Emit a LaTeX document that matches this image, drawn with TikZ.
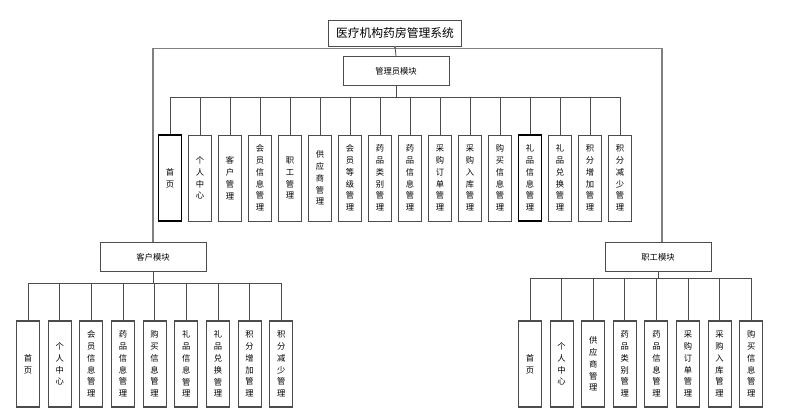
\documentclass[tikz,border=0pt]{standalone}
\usepackage{fontspec}
\setmainfont{Noto Sans CJK SC}
\begin{document}
\begin{tikzpicture}[x=1pt, y=-1pt, font=\fontsize{8.3}{11.8}\selectfont,
          box/.style={draw=black!70, line width=0.8pt, fill=white, inner sep=0pt},
          leaf/.style={box, minimum width=23pt, minimum height=86pt, align=center},
          modbox/.style={box, minimum width=106pt, minimum height=29pt},
          strong/.style={draw=black, line width=1.1pt},
          conn/.style={draw=black!70, line width=0.8pt},
          trunk/.style={draw=black!50, line width=1.4pt}]
        \useasboundingbox (0,0) rectangle (800,414);
        % root and the three modules
        \node[box, minimum width=133pt, minimum height=26pt, font=\fontsize{11.8}{13}\selectfont] (sys) at (395,33) {医疗机构药房管理系统};
        \node[modbox] (admin) at (396,71) {管理员模块};
        \node[modbox] (cust) at (153,257) {客户模块};
        \node[modbox] (staff) at (658,257) {职工模块};
        \draw[trunk] (sys.south) -- ++(0,2) -| (cust.north);
        \draw[trunk] (sys.south) -- ++(0,2) -| ([xshift=4pt]staff.north);
        \draw[conn] (sys.south) -- (admin.north);
        % admin children, 30pt apart
        \foreach \t/\s [count=\i from 0] in {{首\\页}/1, {个\\人\\中\\心}/0, {客\\户\\管\\理}/0,
            {会\\员\\信\\息\\管\\理}/0, {职\\工\\管\\理}/0, {供\\应\\商\\管\\理}/0,
            {会\\员\\等\\级\\管\\理}/0, {药\\品\\类\\别\\管\\理}/0, {药\\品\\信\\息\\管\\理}/0,
            {采\\购\\订\\单\\管\\理}/0, {采\\购\\入\\库\\管\\理}/0, {购\\买\\信\\息\\管\\理}/0,
            {礼\\品\\信\\息\\管\\理}/1, {礼\\品\\兑\\换\\管\\理}/0, {积\\分\\增\\加\\管\\理}/0,
            {积\\分\\减\\少\\管\\理}/0} {
          \ifnum\s=1
            \node[leaf, strong] (a\i) at (170+30*\i, 178) {\t};
          \else
            \node[leaf] (a\i) at (170+30*\i, 178) {\t};
          \fi
          \draw[conn] (admin.south) -- ++(0,12) -| (a\i.north);
        }
        % customer children
        \foreach \t [count=\i from 0] in {{首\\页}, {个\\人\\中\\心}, {会\\员\\信\\息\\管\\理},
            {药\\品\\信\\息\\管\\理}, {购\\买\\信\\息\\管\\理}, {礼\\品\\信\\息\\管\\理},
            {礼\\品\\兑\\换\\管\\理}, {积\\分\\增\\加\\管\\理}, {积\\分\\减\\少\\管\\理}} {
          \node[leaf, line width=1.1pt] (c\i) at (28+31.65*\i, 364) {\t};
          \draw[conn] (cust.south) -- ++(0,11) -| (c\i.north);
        }
        % staff children
        \foreach \t [count=\i from 0] in {{首\\页}, {个\\人\\中\\心}, {供\\应\\商\\管\\理},
            {药\\品\\类\\别\\管\\理}, {药\\品\\信\\息\\管\\理}, {采\\购\\订\\单\\管\\理},
            {采\\购\\入\\库\\管\\理}, {购\\买\\信\\息\\管\\理}} {
          \node[leaf, line width=1.1pt] (s\i) at (530+31.6*\i, 364) {\t};
          \draw[conn] (staff.south) -- ++(0,6) -| (s\i.north);
        }
      \end{tikzpicture}
\end{document}
